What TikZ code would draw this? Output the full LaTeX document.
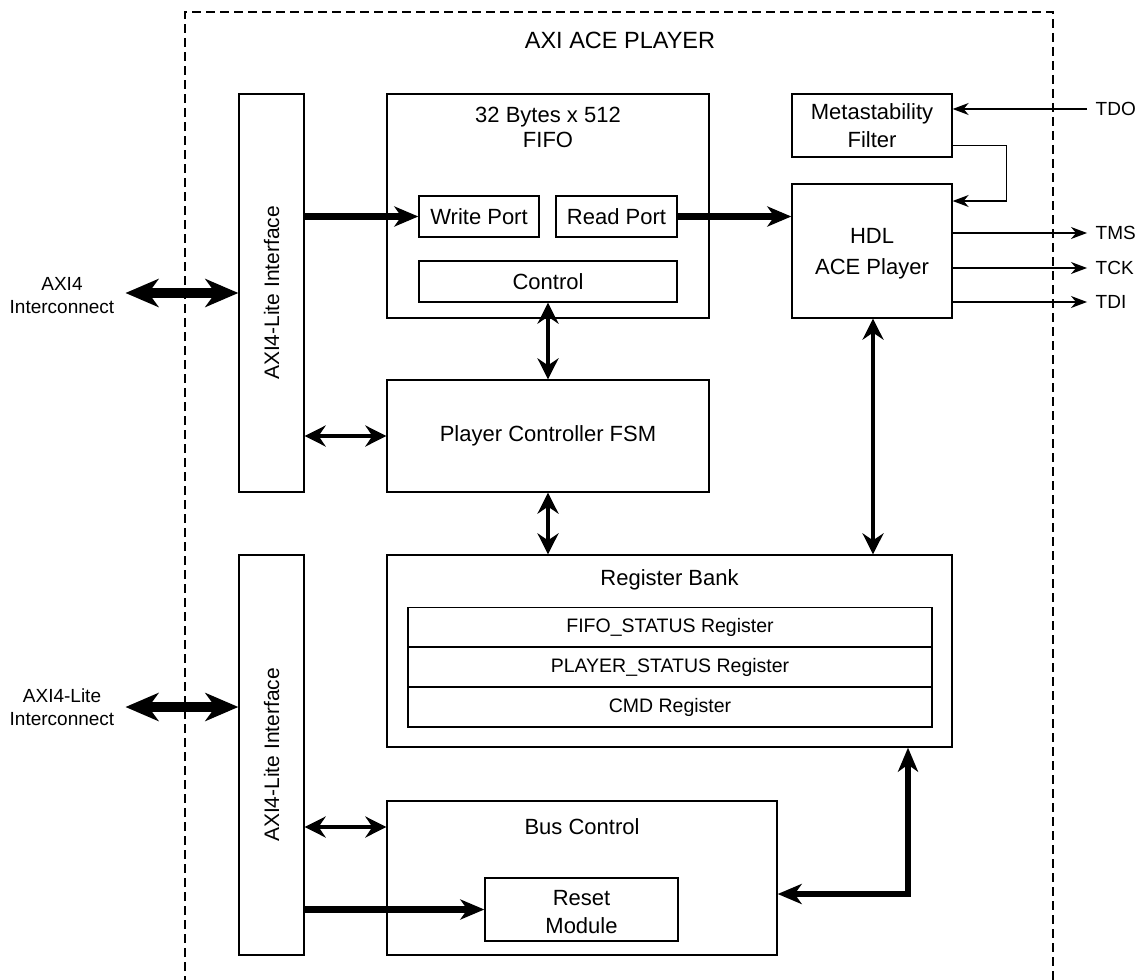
\documentclass[tikz,border=0pt]{standalone}
\usepackage{fontspec}
\setmainfont{Liberation Sans}
\usetikzlibrary{arrows.meta}

\begin{document}
\begin{tikzpicture}[x=1pt,y=-1pt,
  box/.style={draw, line width=1.3pt, inner sep=0pt},
  txt/.style={font=\fontsize{22}{25}\selectfont, align=center, inner sep=0pt},
  smalltxt/.style={font=\fontsize{19}{30}\selectfont, align=center, inner sep=0pt},
  regtxt/.style={font=\fontsize{19.5}{23}\selectfont},
  frame/.style={line width=1.3pt, dash pattern=on 9pt off 5pt},
  thinarr/.style={line width=1.3pt, -{Stealth[length=16pt,width=12pt,inset=5pt]}},
  medarr/.style={line width=4.5pt,
    {Stealth[length=21pt,width=21pt,inset=7pt]}-{Stealth[length=21pt,width=21pt,inset=7pt]}},
  thickarr/.style={line width=6.5pt, -{Stealth[length=24pt,width=20pt,inset=7pt]}},
  thickboth/.style={line width=6pt,
    {Stealth[length=24pt,width=20pt,inset=7pt]}-{Stealth[length=24pt,width=20pt,inset=7pt]}},
  hugearr/.style={line width=10pt,
    {Stealth[length=33pt,width=28pt,inset=10pt]}-{Stealth[length=33pt,width=28pt,inset=10pt]}},
]
\useasboundingbox (0,0) rectangle (1142,979);

% outer dashed frame of the IP block
\draw[frame] (185,985) -- (185,12) -- (1053,12) -- (1053,985);
\node[font=\fontsize{23.5}{28}\selectfont] (title) at (620,40) {AXI ACE PLAYER};

% AXI4-Lite interfaces
\node[box, minimum width=65pt, minimum height=398pt] (axi1) at (271.5,293) {};
\node[txt, rotate=90, font=\fontsize{21}{25}\selectfont] (axi1t) at (axi1) {AXI4-Lite Interface};
\node[box, minimum width=65pt, minimum height=400pt] (axi2) at (271.5,755) {};
\node[txt, rotate=90, font=\fontsize{21}{25}\selectfont] (axi2t) at (axi2) {AXI4-Lite Interface};

% FIFO
\node[box, minimum width=322pt, minimum height=224pt] (fifo) at (548,206) {};
\node[txt] (fifot) at (548,127.5) {32 Bytes x 512\\FIFO};
\node[box, minimum width=120pt, minimum height=41pt, txt] (wport) at (479,216.5) {Write Port};
\node[box, minimum width=121pt, minimum height=41pt, txt] (rport) at (616.5,216.5) {Read Port};
\node[box, minimum width=258pt, minimum height=41pt, txt] (ctrl) at (548,281.5) {Control};

% JTAG side
\node[box, minimum width=160pt, minimum height=63pt, txt, font=\fontsize{22}{28}\selectfont] (meta) at (872,125.5) {Metastability\\Filter};
\node[box, minimum width=160pt, minimum height=134pt] (hdl) at (872,251) {};
\node[txt, font=\fontsize{22}{31}\selectfont] (hdlt) at (872,254) {HDL\\ACE Player};

% player controller
\node[box, minimum width=322pt, minimum height=112pt, txt] (fsm) at (548,436) {Player Controller FSM};

% register bank
\node[box, minimum width=565pt, minimum height=192pt] (bank) at (669.5,651) {};
\node[txt] (bankt) at (669.5,580) {Register Bank};
\node[box, minimum width=524pt, minimum height=39.7pt, regtxt] (r1) at (670,627.5) {FIFO\_STATUS Register};
\node[box, minimum width=524pt, minimum height=40pt, regtxt] (r2) at (670,667) {PLAYER\_STATUS Register};
\node[box, minimum width=524pt, minimum height=40pt, regtxt] (r3) at (670,707) {CMD Register};

% bus control
\node[box, minimum width=390pt, minimum height=154pt] (busc) at (582,878) {};
\node[txt] (busct) at (582,827) {Bus Control};
\node[box, minimum width=193pt, minimum height=63pt] (reset) at (581.5,909.5) {};
\node[txt, font=\fontsize{22}{28}\selectfont] (resett) at (581.5,912.5) {Reset\\Module};

% external labels
\node[smalltxt, font=\fontsize{19}{23}\selectfont, inner xsep=11pt] (ext1) at (62,296) {AXI4\\Interconnect};
\node[smalltxt, font=\fontsize{19}{23}\selectfont, inner xsep=11pt] (ext2) at (62,707) {AXI4-Lite\\Interconnect};
\node[smalltxt, anchor=west, inner xsep=8.5pt] (tdo) at (1087,109) {TDO};
\node[smalltxt, anchor=west, inner xsep=8.5pt] (tms) at (1087,233) {TMS};
\node[smalltxt, anchor=west, inner xsep=8.5pt] (tck) at (1087,268) {TCK};
\node[smalltxt, anchor=west, inner xsep=8.5pt] (tdi) at (1087,302) {TDI};

% bus connections
\draw[hugearr] (ext1.east |- axi1.west) -- (axi1.west);
\draw[hugearr] (ext2.east) -- (axi2.west |- ext2.east);
\draw[thickarr] (axi1.east |- wport.west) -- (wport.west);
\draw[thickarr] (rport.east) -- (hdl.west |- rport.east);
\draw[medarr] (ctrl.south) -- (fsm.north);
\draw[medarr] (axi1.east |- fsm.west) -- (fsm.west);
\draw[medarr] (fsm.south) -- (fsm.south |- bank.north);
\draw[medarr] ([xshift=1pt]hdl.south) -- ([xshift=1pt]hdl.south |- bank.north);
\draw[medarr] (axi2.east |- busct) -- (busc.west |- busct);
\draw[thickarr] (axi2.east |- reset.west) -- (reset.west);
\draw[thickboth] ([xshift=238.5pt]bank.south) |- ([yshift=-16pt]busc.east);

% JTAG signals
\draw[thinarr] (tdo.west) -- (meta.east |- tdo.west);
\draw[thinarr] ([yshift=-20pt]meta.east) -- ++(54,0) |- ([yshift=50pt]hdl.east);
\draw[thinarr] (hdl.east |- tms.west) -- (tms.west);
\draw[thinarr] (hdl.east |- tck.west) -- (tck.west);
\draw[thinarr] (hdl.east |- tdi.west) -- (tdi.west);
\end{tikzpicture}
\end{document}
